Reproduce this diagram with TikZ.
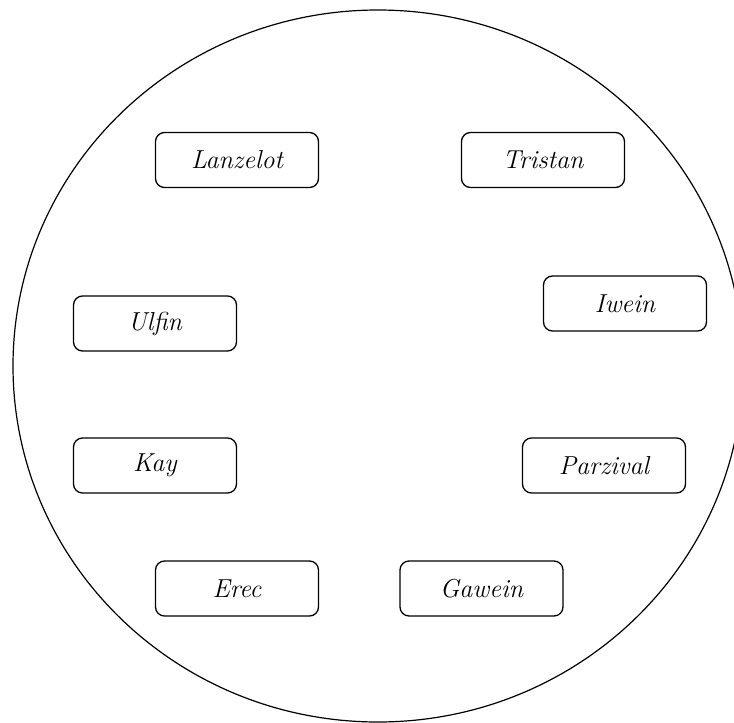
\documentclass[tikz,border=0pt]{standalone}
\usepackage{fontspec}
\setmainfont{Latin Modern Roman}
\usetikzlibrary{shapes.geometric}
\newcommand\knightfont{\itshape\fontsize{26}{30}\selectfont}
\begin{document}
\begin{tikzpicture}[x=1pt,y=-1pt,
  knight/.style={draw,line width=1.3pt,rounded corners=9pt,minimum width=163pt,minimum height=55pt,inner sep=0pt,font=\knightfont},
  table/.style={draw,line width=1.2pt}]
\useasboundingbox (0,0) rectangle (734,723);
\clip (0,0) rectangle (734,723);
\node[table,ellipse,minimum width=730pt,minimum height=712pt,inner sep=0pt] (round) at (378,366) {};
\node[knight] (lanzelot) at (237,160) {Lanzelot};
\node[knight] (tristan) at (543,160) {Tristan};
\node[knight] (iwein) at (625,303.5) {Iwein};
\node[knight] (ulfin) at (155,323.5) {Ulfin};
\node[knight] (kay) at (155,465.5) {Kay};
\node[knight] (parzival) at (604,465.5) {Parzival};
\node[knight] (erec) at (237,588.5) {Erec};
\node[knight] (gawein) at (481.5,588.5) {Gawein};
\end{tikzpicture}
\end{document}
